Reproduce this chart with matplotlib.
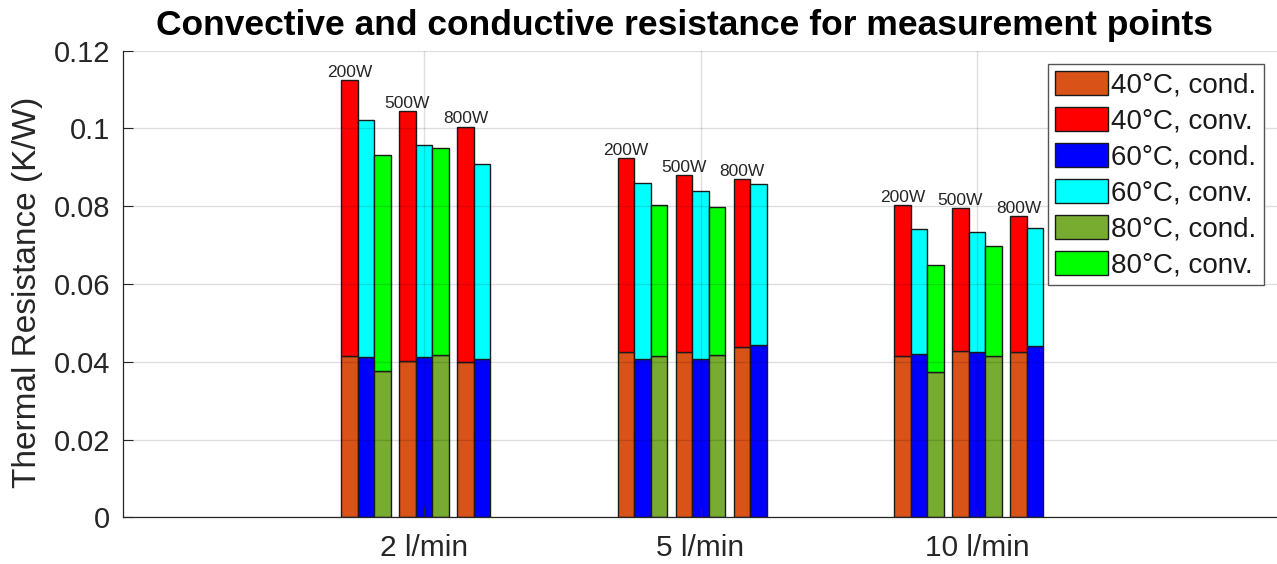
import numpy as np
import matplotlib.pyplot as plt
from matplotlib.patches import Patch

# categories
flows = ['2 l/min', '5 l/min', '10 l/min']
powers = ['200W', '500W', '800W']
temps = ['40°C', '60°C', '80°C']

# values, rows = flow, cols = power (K/W)
cond_40 = [[0.0414, 0.0403, 0.0400], [0.0424, 0.0424, 0.0438], [0.0416, 0.0427, 0.0424]]
conv_40 = [[0.0711, 0.0643, 0.0605], [0.0501, 0.0457, 0.0432], [0.0387, 0.0369, 0.0351]]
cond_60 = [[0.0411, 0.0411, 0.0408], [0.0408, 0.0408, 0.0444], [0.0421, 0.0424, 0.0440]]
conv_60 = [[0.0612, 0.0547, 0.0500], [0.0452, 0.0432, 0.0413], [0.0320, 0.0309, 0.0305]]
# no 80°C measurement at 800W
cond_80 = [[0.0377, 0.0417, np.nan], [0.0414, 0.0417, np.nan], [0.0374, 0.0416, np.nan]]
conv_80 = [[0.0555, 0.0534, np.nan], [0.0389, 0.0380, np.nan], [0.0276, 0.0281, np.nan]]

cond_all = [cond_40, cond_60, cond_80]
conv_all = [conv_40, conv_60, conv_80]
cond_colors = ['#D95319', '#0000FF', '#77AC30']
conv_colors = ['#FF0000', '#00FFFF', '#00FF00']

plt.rcParams['font.family'] = ['Liberation Sans', 'DejaVu Sans']
txt = '#262626'

W, H = 1277, 564
fig = plt.figure(figsize=(W / 100, H / 100), dpi=100)
ax = fig.add_axes([123.3 / W, 1 - 517.3 / H, 1 - 123.3 / W, (517.3 - 50.7) / H])

w = 0.06          # bar width
sub = 3.5 * w     # distance between power sub-groups
x = np.arange(1, len(flows) + 1)

handles = []
for ti, t in enumerate(temps):
    cond = np.array(cond_all[ti])
    conv = np.array(conv_all[ti])
    for pi in range(len(powers)):
        xp = x + (pi - 1) * sub + (ti - 1) * w
        c = cond[:, pi]
        v = conv[:, pi]
        ok = ~np.isnan(c)
        if not ok.any():
            continue
        ax.bar(xp[ok], c[ok], w, color=cond_colors[ti], edgecolor='#1a1a1a', lw=1.0, zorder=2)
        ax.bar(xp[ok], v[ok], w, bottom=c[ok], color=conv_colors[ti],
               edgecolor='#1a1a1a', lw=1.0, zorder=2)
        # power label above the 40°C bar
        if ti == 0:
            for xi, top in zip(xp, c + v):
                ax.annotate(powers[pi], (xi, top), xytext=(0, 2.2), textcoords='offset points',
                            ha='center', va='baseline', fontsize=12.5, color=txt)
    handles.append(Patch(facecolor=cond_colors[ti], edgecolor='#1a1a1a', lw=1.0, label=t + ', cond.'))
    handles.append(Patch(facecolor=conv_colors[ti], edgecolor='#1a1a1a', lw=1.0, label=t + ', conv.'))

left = 1 - (424 - 123.3) / 276.5
ax.set_xlim(left, left + (W - 123.3) / 276.5)
ax.set_ylim(0, 0.12)
ax.set_xticks(x)
ax.set_xticklabels(flows)
ax.set_yticks(np.arange(0, 0.121, 0.02))
ax.set_yticklabels(['0', '0.02', '0.04', '0.06', '0.08', '0.1', '0.12'])
ax.tick_params(direction='in', length=7, width=0.8, color=txt, labelcolor=txt, labelsize=21)
ax.tick_params(axis='x', labelsize=21.5, pad=12)
ax.tick_params(axis='y', pad=9.5)

for s in ['top', 'right']:
    ax.spines[s].set_visible(False)
for s in ['left', 'bottom']:
    ax.spines[s].set_color(txt)
    ax.spines[s].set_linewidth(0.9)

ax.grid(True, color='k', alpha=0.13, lw=1)
ax.set_axisbelow(False)

fig.text(28 / W, 1 - 292 / H, 'Thermal Resistance (K/W)', rotation=90,
         ha='center', va='center', fontsize=24, color=txt)
fig.text(684 / W, 1 - 35 / H, 'Convective and conductive resistance for measurement points',
         ha='center', va='baseline', fontsize=25.5, fontweight='bold', color='k')

leg = fig.legend(handles=handles, loc='upper right', bbox_to_anchor=(1263.5 / W, 1 - 64.3 / H),
                 fontsize=20, frameon=True, fancybox=False, framealpha=1,
                 handlelength=1.9, handleheight=0.95, handletextpad=0.13,
                 labelspacing=0.3, borderpad=0.25, borderaxespad=0)
leg.get_frame().set_edgecolor('#555555')
leg.get_frame().set_linewidth(1)
for t in leg.get_texts():
    t.set_color('#1a1a1a')

fig.savefig('out.png', dpi=100)
